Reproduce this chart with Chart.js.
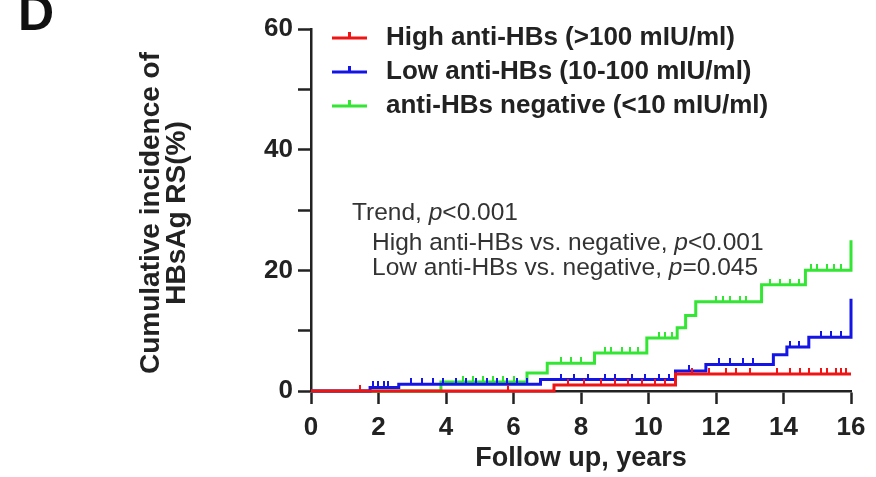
<!DOCTYPE html>
<html>
<head>
<meta charset="utf-8">
<script src="https://cdn.jsdelivr.net/npm/chart.js@4.4.1/dist/chart.umd.min.js"></script>
<style>
  html, body { margin: 0; padding: 0; background: #fff; }
  #wrap { width: 876px; height: 477px; position: relative; }
</style>
</head>
<body>
<div id="wrap"><canvas id="km"></canvas></div>
<script>
// Cumulative incidence step curves: event times (years) / level after the event (%)
const highTimes   = [0, 7.2, 10.8, 16];
const highValues  = [0, 1.0, 2.8, 2.8];
const lowTimes    = [0, 1.75, 2.6, 6.8, 10.8, 11.7, 13.7, 14.1, 14.75, 16];
const lowValues   = [0, 0.6, 1.1, 1.9, 3.3, 4.4, 6.0, 7.3, 8.9, 15.3];
const negTimes    = [0, 3.85, 6.4, 7.0, 8.4, 9.95, 10.85, 11.1, 11.4, 13.35, 14.65, 16];
const negValues   = [0, 1.5, 3.0, 4.6, 6.3, 8.8, 10.5, 12.5, 14.8, 17.6, 20.0, 25.0];

// censoring marks (years)
const highCensor = [1.45, 5.85, 7.6, 8.1, 8.6, 9.0, 9.4, 9.8, 10.2, 10.5, 11.3, 11.8, 12.3, 12.6,
                    13.0, 13.8, 14.2, 14.5, 14.75, 15.1, 15.3, 15.55, 15.7, 15.85];
const lowCensor  = [1.83, 1.98, 2.15, 2.27, 2.95, 3.3, 3.6, 3.9, 4.3, 4.6, 4.9, 5.2, 5.5, 5.8, 6.1,
                    6.4, 7.4, 7.8, 8.2, 8.7, 9.0, 9.5, 9.9, 10.3, 10.6, 11.2, 12.1, 12.4, 12.8, 13.1,
                    14.2, 14.45, 15.1, 15.4, 15.7];
const negCensor  = [4.5, 4.8, 5.1, 5.4, 5.7, 6.0, 7.4, 7.7, 8.0, 8.7, 8.9, 9.2, 9.45, 9.7, 10.3,
                    10.5, 10.7, 12.0, 12.2, 12.4, 12.7, 12.9, 13.6, 13.9, 14.2, 14.45, 14.8, 15.0,
                    15.3, 15.5, 15.7];

const seriesLabels = ['High anti-HBs (>100 mIU/ml)', 'Low anti-HBs (10-100 mIU/ml)', 'anti-HBs negative (<10 mIU/ml)'];
const seriesColors = ['#f01414', '#1414e6', '#33e633'];

const xTicks      = [0, 2, 4, 6, 8, 10, 12, 14, 16];
const yTicks      = [0, 10, 20, 30, 40, 50, 60];
const yTickLabels = [0, 20, 40, 60];

const FONT = "'Liberation Sans', Arial, sans-serif";
const INK  = '#222';

function toPoints(times, values) {
  return times.map((t, i) => ({ x: t, y: values[i] }));
}

// level of the step curve at time t
function levelAt(times, values, t) {
  let v = values[0];
  for (let i = 0; i < times.length; i++) if (times[i] <= t) v = values[i];
  return v;
}

function censorPoints(cens, times, values) {
  return cens.map(t => ({ x: t, y: levelAt(times, values, t) }));
}

// small upward tick used for censor marks and legend
function makeTick(color) {
  const c = document.createElement('canvas');
  c.width = 2; c.height = 12;
  const g = c.getContext('2d');
  g.fillStyle = color;
  g.fillRect(0, 0, 2, 6);
  return c;
}

const groups = [
  { times: highTimes, values: highValues, cens: highCensor },
  { times: lowTimes,  values: lowValues,  cens: lowCensor },
  { times: negTimes,  values: negValues,  cens: negCensor },
];

const datasets = [];
groups.forEach((g, i) => {
  datasets.push({
    label: seriesLabels[i] + ' censored',
    data: censorPoints(g.cens, g.times, g.values),
    showLine: false,
    pointStyle: makeTick(seriesColors[i]),
    pointRadius: 3,
    clip: false,
  });
  datasets.push({
    label: seriesLabels[i],
    data: toPoints(g.times, g.values),
    stepped: true,
    borderColor: seriesColors[i],
    borderWidth: 3,
    pointRadius: 0,
    fill: false,
    clip: false,
  });
});

const decorPlugin = {
  id: 'decor',
  afterDraw(chart) {
    const ctx = chart.ctx;
    ctx.save();

    // panel letter, cut at the top edge
    ctx.fillStyle = '#111';
    ctx.font = `bold 50px ${FONT}`;
    ctx.textBaseline = 'alphabetic';
    ctx.textAlign = 'left';
    ctx.fillText('D', 18, 30);

    // y axis title (two lines, rotated)
    ctx.font = `bold 28px ${FONT}`;
    ctx.fillStyle = INK;
    ctx.textAlign = 'center';
    [['Cumulative incidence of', 159], ['HBsAg RS(%)', 185]].forEach(([txt, x]) => {
      ctx.save();
      ctx.translate(x, 213);
      ctx.rotate(-Math.PI / 2);
      ctx.fillText(txt, 0, 0);
      ctx.restore();
    });

    // legend
    ctx.textAlign = 'left';
    ctx.textBaseline = 'middle';
    ctx.font = `bold 26px ${FONT}`;
    seriesLabels.forEach((lab, i) => {
      const y = 38 + i * 34;
      ctx.strokeStyle = seriesColors[i];
      ctx.lineWidth = 3;
      ctx.beginPath();
      ctx.moveTo(332, y);
      ctx.lineTo(367, y);
      ctx.moveTo(349.5, y);
      ctx.lineTo(349.5, y - 6);
      ctx.stroke();
      ctx.fillStyle = INK;
      ctx.fillText(lab, 386, y);
    });

    // statistics annotation, with italic p
    ctx.textBaseline = 'alphabetic';
    ctx.fillStyle = '#333';
    const lines = [
      [352, 220, 'Trend, ', '<0.001'],
      [372, 250, 'High anti-HBs vs. negative, ', '<0.001'],
      [372, 275, 'Low anti-HBs vs. negative, ', '=0.045'],
    ];
    lines.forEach(([x, y, pre, post]) => {
      ctx.font = `24.5px ${FONT}`;
      ctx.fillText(pre, x, y);
      let cx = x + ctx.measureText(pre).width;
      ctx.font = `italic 24.5px ${FONT}`;
      ctx.fillText('p', cx, y);
      cx += ctx.measureText('p').width;
      ctx.font = `24.5px ${FONT}`;
      ctx.fillText(post, cx, y);
    });

    ctx.restore();
  },
};

const axisGrid = {
  display: true,
  drawOnChartArea: false,
  drawTicks: true,
  tickLength: 13,
  tickWidth: 2.5,
  tickColor: INK,
};

new Chart(document.getElementById('km'), {
  type: 'line',
  data: { datasets },
  options: {
    responsive: true,
    maintainAspectRatio: false,
    animation: false,
    layout: { padding: { top: 29, right: 25, left: 0, bottom: 0 } },
    plugins: {
      legend: { display: false },
      tooltip: { enabled: false },
    },
    scales: {
      x: {
        type: 'linear',
        min: 0,
        max: 16,
        afterBuildTicks: (s) => { s.ticks = xTicks.map(v => ({ value: v })); },
        afterFit: (s) => { s.height = 86; },
        border: { display: true, color: INK, width: 2.5 },
        grid: axisGrid,
        ticks: {
          color: INK,
          padding: 8,
          maxRotation: 0,
          font: { family: FONT, size: 26, weight: 'bold' },
        },
        title: {
          display: true,
          text: 'Follow up, years',
          color: INK,
          padding: { top: 0, bottom: 2 },
          font: { family: FONT, size: 27, weight: 'bold' },
        },
      },
      y: {
        type: 'linear',
        min: 0,
        max: 60,
        afterBuildTicks: (s) => { s.ticks = yTicks.map(v => ({ value: v })); },
        afterFit: (s) => { s.width = 311; },
        border: { display: true, color: INK, width: 2.5 },
        grid: axisGrid,
        ticks: {
          color: INK,
          padding: 5,
          font: { family: FONT, size: 26, weight: 'bold' },
          callback: (v) => (yTickLabels.includes(v) ? String(v) : ''),
        },
      },
    },
  },
  plugins: [decorPlugin],
});
</script>
</body>
</html>
